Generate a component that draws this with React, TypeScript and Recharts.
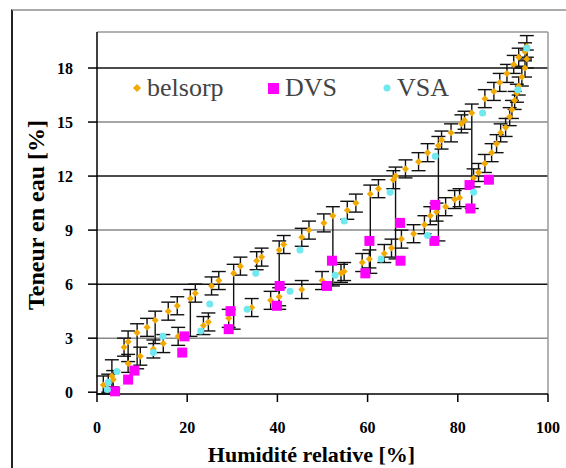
import React from 'react'
import {
  ScatterChart,
  Scatter,
  XAxis,
  YAxis,
  ErrorBar,
  ReferenceLine,
  Legend,
  Label,
} from 'recharts'

// belsorp: [HR %, teneur %, erreur basse, erreur haute]
const belsorpDesorption: number[][] = [
  [1.4, 0.4, 0.5, 0.5], [3.3, 0.9, 0.6, 0.9], [6.0, 2.5, 0.5, 0.5], [6.9, 2.8, 1.1, 0.6],
  [8.9, 3.3, 2.0, 0.5], [11.1, 3.6, 0.5, 0.5], [12.9, 4.0, 1.3, 0.5], [15.8, 4.5, 0.5, 0.5],
  [17.8, 4.8, 0.5, 0.5], [20.7, 5.2, 2.1, 0.5], [21.8, 5.5, 0.5, 0.5], [25.4, 5.9, 0.5, 0.5],
  [27.0, 6.2, 0.5, 0.5], [30.3, 6.6, 3.1, 0.5], [31.8, 7.0, 0.5, 0.5], [35.4, 7.3, 0.5, 0.5],
  [36.5, 7.5, 0.5, 0.5], [40.4, 7.9, 3.3, 0.5], [41.4, 8.2, 0.5, 0.5], [45.4, 8.6, 0.5, 0.5],
  [47.0, 9.0, 0.5, 0.5], [50.3, 9.4, 0.5, 0.5], [52.3, 9.8, 3.9, 0.5], [55.5, 10.1, 0.5, 0.5],
  [57.4, 10.5, 0.5, 0.5], [60.6, 11.0, 4.4, 0.5], [62.4, 11.3, 0.5, 0.5], [65.7, 11.8, 0.5, 0.5],
  [66.2, 12.0, 4.6, 0.5], [68.4, 12.4, 0.5, 0.5], [71.3, 12.8, 0.5, 0.5], [73.3, 13.3, 0.5, 0.5],
  [75.7, 13.7, 5.3, 0.5], [76.4, 14.0, 0.5, 0.5], [78.5, 14.4, 0.5, 0.5], [80.8, 14.9, 0.5, 0.5],
  [81.5, 15.1, 0.5, 0.5], [83.1, 15.5, 5.3, 0.5], [86.0, 16.3, 0.5, 0.5], [88.0, 16.7, 0.5, 0.5],
  [89.3, 17.2, 0.5, 0.5], [90.9, 17.7, 0.5, 0.5], [92.4, 18.2, 0.5, 0.5], [93.5, 18.6, 0.5, 0.5],
  [94.9, 18.9, 0.5, 0.5], [95.3, 19.2, 0.6, 0.6],
]

const belsorpAdsorption: number[][] = [
  [2.5, 0.5, 0.5, 0.5], [3.6, 0.7, 0.5, 0.5], [6.9, 1.6, 0.5, 0.5], [9.6, 2.0, 0.5, 0.5],
  [12.5, 2.4, 0.5, 0.5], [14.7, 2.7, 0.5, 0.5], [18.0, 3.1, 0.5, 0.5], [23.6, 3.7, 0.5, 0.5],
  [24.7, 3.9, 0.5, 0.5], [29.2, 4.1, 0.5, 0.5], [34.3, 4.7, 0.5, 0.5], [38.5, 5.1, 0.5, 0.5],
  [40.4, 5.3, 0.5, 0.5], [45.4, 5.7, 0.5, 0.5], [49.9, 6.2, 0.5, 0.5], [54.1, 6.6, 0.5, 0.5],
  [54.8, 6.7, 0.5, 0.5], [58.8, 7.2, 0.5, 0.5], [60.4, 7.4, 0.5, 0.5], [63.7, 7.7, 0.5, 0.5],
  [65.3, 8.0, 0.5, 0.5], [67.5, 8.5, 0.5, 0.5], [70.2, 8.8, 0.5, 0.5], [72.6, 9.3, 0.5, 0.5],
  [73.9, 9.8, 0.5, 0.5], [75.3, 10.0, 0.5, 0.5], [77.3, 10.3, 0.5, 0.5], [79.3, 10.7, 0.5, 0.5],
  [80.4, 10.8, 0.5, 0.5], [83.5, 11.9, 0.5, 0.5], [84.6, 12.2, 0.5, 0.5], [86.0, 12.7, 0.5, 0.5],
  [87.5, 13.3, 0.5, 0.5], [88.6, 13.8, 0.5, 0.5], [89.5, 14.4, 0.5, 0.5], [90.6, 14.7, 0.5, 0.5],
  [91.5, 15.3, 0.5, 0.5], [92.0, 15.7, 0.5, 0.5], [92.6, 16.2, 0.5, 0.5], [93.1, 16.6, 0.5, 0.5],
  [93.5, 17.0, 0.5, 0.5], [94.2, 17.5, 0.5, 0.5], [94.9, 18.0, 0.5, 0.5], [95.3, 18.5, 0.5, 0.5],
]

const dvsPoints: number[][] = [
  [4.0, 0.05], [6.9, 0.7], [8.3, 1.2], [18.9, 2.2], [19.4, 3.1], [29.2, 3.5], [29.6, 4.5],
  [39.9, 4.8], [40.5, 5.9], [51.0, 5.9], [52.1, 7.3], [59.5, 6.6], [60.4, 8.4], [67.3, 7.3],
  [67.2, 9.4], [74.8, 8.4], [75.0, 10.4], [82.8, 10.2], [82.6, 11.5], [86.9, 11.8],
]

const vsaPoints: number[][] = [
  [2.3, 0.15], [2.5, 0.55], [4.4, 1.15], [12.5, 2.2], [14.6, 3.1], [23.0, 3.4], [25.0, 4.9],
  [33.3, 4.6], [35.2, 6.6], [42.8, 5.6], [45.0, 7.9], [52.8, 6.5], [54.8, 9.5], [63.0, 7.4],
  [65.0, 11.1], [73.3, 8.7], [75.0, 13.1], [83.5, 11.1], [85.5, 15.5], [93.3, 16.8], [95.3, 19.1],
]

const seriesNames = ['belsorp', 'DVS', 'VSA']
const xTicks = [0, 20, 40, 60, 80, 100]
const yTicks = [0, 3, 6, 9, 12, 15, 18]

const ORANGE = '#F2A900'
const MAGENTA = '#FF00FF'
const CYAN = '#6FE8F0'
const SERIF = 'Liberation Serif, DejaVu Serif, serif'

const belsorpData = [...belsorpDesorption, ...belsorpAdsorption].map(([rh, w, lo, hi]) => ({
  rh,
  w,
  err: [lo, hi],
}))
const dvsData = dvsPoints.map(([rh, w]) => ({ rh, w }))
const vsaData = vsaPoints.map(([rh, w]) => ({ rh, w }))

const Diamond = ({ cx, cy }: any) => (
  <polygon
    points={`${cx},${cy - 3.5} ${cx + 3.5},${cy} ${cx},${cy + 3.5} ${cx - 3.5},${cy}`}
    fill={ORANGE}
  />
)
const Square = ({ cx, cy }: any) => <rect x={cx - 5} y={cy - 5} width={10} height={10} fill={MAGENTA} />
const Dot = ({ cx, cy }: any) => <circle cx={cx} cy={cy} r={3.5} fill={CYAN} />

const legendMarkers = [
  <svg width={8} height={8}><polygon points="4,0 8,4 4,8 0,4" fill={ORANGE} /></svg>,
  <svg width={11} height={11}><rect width={11} height={11} fill={MAGENTA} /></svg>,
  <svg width={8} height={8}><circle cx={4} cy={4} r={3.5} fill={CYAN} /></svg>,
]
const legendLeft = [133, 268, 383]

const LegendContent = () => (
  <div style={{ position: 'relative', height: 30 }}>
    {seriesNames.map((name, i) => (
      <div
        key={name}
        style={{
          position: 'absolute',
          left: legendLeft[i],
          top: 0,
          display: 'flex',
          alignItems: 'center',
          gap: 6,
          fontFamily: SERIF,
          fontSize: 26,
          color: '#444',
          lineHeight: '30px',
        }}
      >
        {legendMarkers[i]}
        <span>{name}</span>
      </div>
    ))}
  </div>
)

const YTitle = ({ viewBox }: any) => {
  const cx = 36
  const cy = viewBox.y + viewBox.height / 2 + 2
  return (
    <text
      x={cx}
      y={cy}
      transform={`rotate(-90 ${cx} ${cy})`}
      textAnchor="middle"
      dominantBaseline="central"
      fontFamily={SERIF}
      fontWeight="bold"
      fontSize={24}
      fill="#000"
    >
      Teneur en eau [%]
    </text>
  )
}

const XTitle = ({ viewBox }: any) => (
  <text
    x={viewBox.x + viewBox.width / 2 - 11}
    y={462}
    textAnchor="middle"
    fontFamily={SERIF}
    fontWeight="bold"
    fontSize={22}
    fill="#000"
  >
    Humidité relative [%]
  </text>
)

const gridColor = (v: number) => (v % 6 === 0 ? '#111' : '#888')

export default function App() {
  return (
    <div style={{ position: 'fixed', left: 0, top: 0, width: 566, height: 468, background: '#fff', overflow: 'hidden' }}>
      <div
        style={{
          position: 'absolute',
          left: 11,
          top: 9,
          width: 600,
          height: 500,
          borderLeft: '2px solid #222',
          borderTop: '2px solid #aaa',
        }}
      />
      <div style={{ position: 'absolute', left: 0, top: 0 }}>
        <ScatterChart width={566} height={468} margin={{ top: 32, right: 18, bottom: 0, left: 0 }}>
          <XAxis
            type="number"
            dataKey="rh"
            domain={[0, 100]}
            ticks={xTicks}
            height={74}
            tickSize={8}
            tickMargin={20}
            axisLine={{ stroke: '#000', strokeWidth: 1.5 }}
            tickLine={{ stroke: '#000', strokeWidth: 1.5 }}
            tick={{ fill: '#000', fontFamily: SERIF, fontWeight: 'bold', fontSize: 16 }}
          >
            <Label content={<XTitle />} />
          </XAxis>
          <YAxis
            type="number"
            dataKey="w"
            domain={[0, 20]}
            ticks={yTicks}
            width={97}
            tickSize={9}
            tickMargin={15}
            axisLine={{ stroke: '#000', strokeWidth: 1.5 }}
            tickLine={{ stroke: '#000', strokeWidth: 1.5 }}
            tick={{ fill: '#000', fontFamily: SERIF, fontWeight: 'bold', fontSize: 16 }}
          >
            <Label content={<YTitle />} />
          </YAxis>
          {yTicks.slice(1).map((v) => (
            <ReferenceLine key={v} y={v} stroke={gridColor(v)} strokeWidth={1.5} />
          ))}
          <ReferenceLine y={20} stroke="#999" strokeWidth={1.5} />
          <ReferenceLine x={100} stroke="#999" strokeWidth={1.5} />
          <Legend
            layout="horizontal"
            align="center"
            verticalAlign="middle"
            wrapperStyle={{ position: 'absolute', left: 0, top: 73, width: 566 }}
            content={<LegendContent />}
          />
          <Scatter name="belsorp" data={belsorpData} shape={<Diamond />} isAnimationActive={false}>
            <ErrorBar dataKey="err" direction="y" width={7} stroke="#111" strokeWidth={1.4} />
          </Scatter>
          <Scatter name="DVS" data={dvsData} shape={<Square />} isAnimationActive={false} />
          <Scatter name="VSA" data={vsaData} shape={<Dot />} isAnimationActive={false} />
        </ScatterChart>
      </div>
    </div>
  )
}
